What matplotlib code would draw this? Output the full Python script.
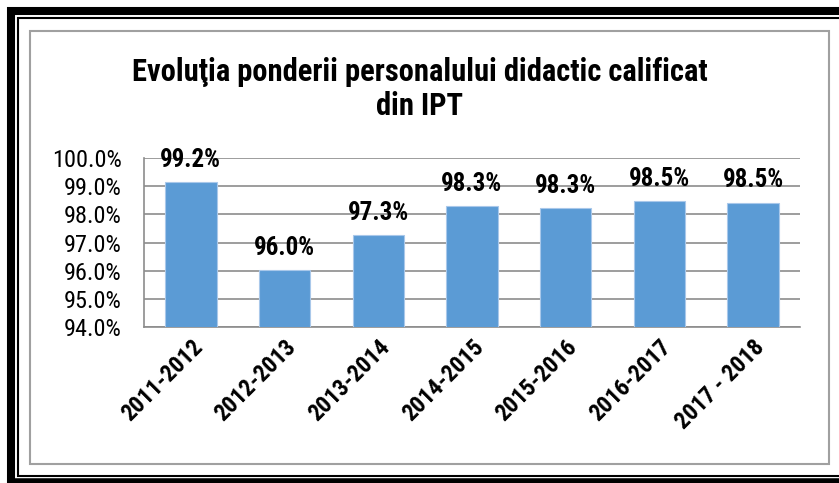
import matplotlib
matplotlib.use('Agg')
import matplotlib.pyplot as plt
from matplotlib.lines import Line2D
from matplotlib.patches import Rectangle
from matplotlib.ticker import FuncFormatter

plt.rcParams['font.family'] = ['Roboto Condensed', 'Liberation Sans', 'DejaVu Sans']

# date
ani = ['2011-2012', '2012-2013', '2013-2014', '2014-2015', '2015-2016', '2016-2017', '2017 - 2018']
pondere = [99.15, 96.01, 97.26, 98.29, 98.23, 98.47, 98.42]
etichete = [99.2, 96.0, 97.3, 98.3, 98.3, 98.5, 98.5]
yticks = [94, 95, 96, 97, 98, 99, 100]

W, H = 839, 483
fig = plt.figure(figsize=(W / 100, H / 100), dpi=100)

# chenarul exterior (linie groasa + linie subtire)
def px_line(x0, y0, x1, y1, lw):
    fig.add_artist(Line2D([x0 / W, x1 / W], [1 - y0 / H, 1 - y1 / H],
                          transform=fig.transFigure, color='black', lw=lw,
                          solid_capstyle='butt'))

px_line(11, 7, 11, H, 5.8)
px_line(7, 11, W, 11, 5.8)
px_line(18, 17, 18, 477, 1.5)
px_line(17, 18, W, 18, 1.5)
px_line(17, 476, W, 476, 1.5)
px_line(7, 481, W, 481, 4)

# chenarul gri al graficului
fig.add_artist(Rectangle((30 / W, 1 - 464 / H), (829 - 30) / W, (464 - 31) / H,
                         transform=fig.transFigure, fill=False,
                         edgecolor='#a0a0a0', lw=1.5))

ax = fig.add_axes([144 / W, 1 - 327 / H, (800 - 144) / W, (327 - 158) / H])

x = range(len(ani))
ax.bar(x, pondere, width=0.55, color='#5b9bd5', edgecolor='#a9c8ea', lw=0.8,
       zorder=3, bottom=0)
ax.set_ylim(94, 100)
ax.set_xlim(-0.5, len(ani) - 0.5)
ax.set_yticks(yticks)
ax.yaxis.set_major_formatter(FuncFormatter(lambda v, p: '%.1f%%' % v))
ax.set_xticks(list(x))
ax.set_xticklabels(ani, rotation=45, ha='right', rotation_mode='anchor',
                   fontsize=17, fontweight='bold')
ax.tick_params(axis='y', labelsize=17.5, length=0, pad=16)
ax.tick_params(axis='x', length=0, pad=6)

ax.grid(axis='y', color='#8c8c8c', lw=1.2, zorder=0)
for s in ['top', 'right']:
    ax.spines[s].set_visible(False)
for s in ['left', 'bottom']:
    ax.spines[s].set_color('#8c8c8c')
    ax.spines[s].set_linewidth(1.2)

for i, v in enumerate(pondere):
    ax.annotate('%.1f%%' % etichete[i], (i, v), xytext=(0, 11),
                textcoords='offset points', ha='center', va='baseline',
                fontsize=18, fontweight='bold', zorder=4)

fig.text(0.5, 1 - 89 / H, 'Evoluţia ponderii personalului didactic calificat\ndin IPT',
         ha='center', va='center', fontsize=22, fontweight='bold',
         linespacing=1.2)

plt.savefig('out.png', dpi=100)
